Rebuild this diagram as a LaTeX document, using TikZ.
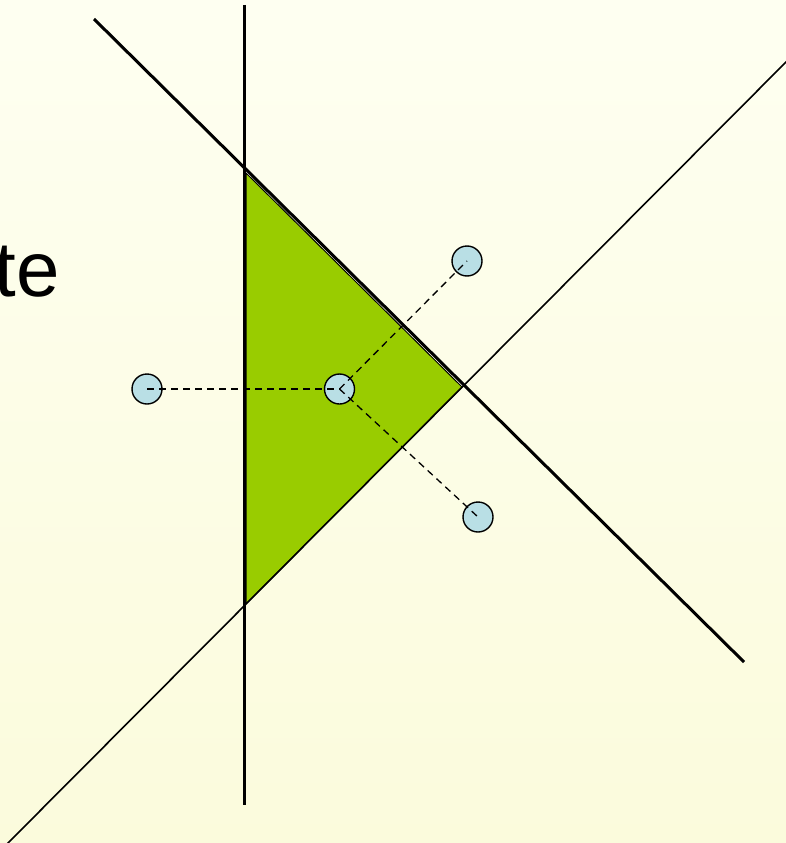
\documentclass[tikz,border=0pt]{standalone}
\usepackage{fontspec}
\setmainfont{Liberation Sans}
\definecolor{bgtop}{RGB}{254,255,241}
\definecolor{bgbot}{RGB}{251,251,220}
\definecolor{tri}{RGB}{153,204,0}
\definecolor{dot}{RGB}{185,223,229}
\tikzset{
  dotnode/.style={circle, draw=black, line width=1.4pt, fill=dot, minimum size=30pt, inner sep=0pt},
  thickline/.style={line width=3pt, black},
  thinline/.style={line width=1.6pt, black},
  link/.style={line width=1.3pt, dash pattern=on 7pt off 5pt, black}
}
\begin{document}
\begin{tikzpicture}[x=1pt,y=-1pt]
\useasboundingbox (0,0) rectangle (786,843);
\clip (0,0) rectangle (786,843);
\shade[top color=bgtop, bottom color=bgbot] (0,0) rectangle (786,843);
% triangle
\coordinate (ta) at (246,173);
\coordinate (tb) at (462,387);
\coordinate (tc) at (246,604);
\filldraw[fill=tri, draw=black, line width=1pt] (ta) -- (tb) -- (tc) -- cycle;
% lines
\coordinate (l1a) at (6,845);
\coordinate (l1b) at (788,60);
\draw[thinline] (l1a) -- (l1b);
\coordinate (l2a) at (94,19);
\coordinate (l2b) at (744,662);
\draw[thickline] (l2a) -- (l2b);
\coordinate (l3a) at (244,5);
\coordinate (l3b) at (244,805);
\draw[thickline] (l3a) -- (l3b);
% points
\node[dotnode] (c1) at (147,389) {};
\node[dotnode] (c2) at (339.5,389) {};
\node[dotnode] (c3) at (467,261) {};
\node[dotnode] (c4) at (478,517) {};
\draw[link] (c1.center) -- (c2.center);
\draw[link] (c2.center) -- (c3.center);
\draw[link] (c2.center) -- (c4.center);
% text
\node[anchor=base east, inner sep=0pt, font=\fontsize{78}{80}\selectfont] (txt) at (60,296) {te};
\end{tikzpicture}
\end{document}
